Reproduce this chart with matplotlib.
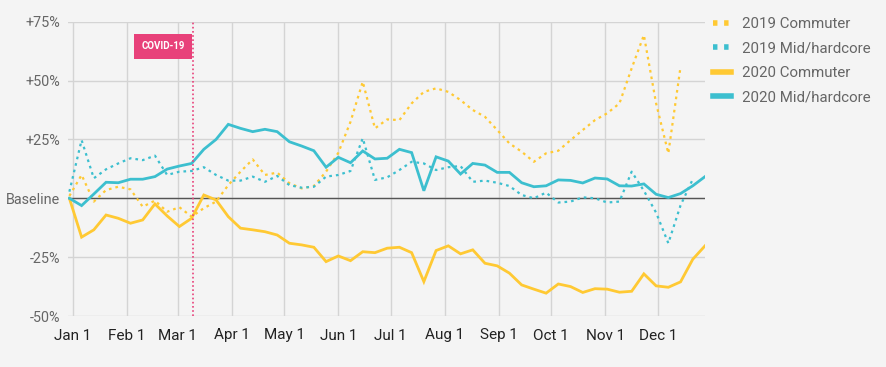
import matplotlib
matplotlib.use("Agg")
import matplotlib.pyplot as plt
import matplotlib.dates as mdates
import numpy as np
import pandas as pd
from matplotlib.lines import Line2D

plt.rcParams['font.family'] = ['Roboto', 'DejaVu Sans']

# weekly data, starting Monday Dec 30 2019
weeks = pd.date_range('2019-12-30', periods=53, freq='7D')

commuter_2020 = [0, -16.5, -13.4, -7.1, -8.5, -10.6, -9.2, -2.4, -7.5, -12, -8.5, 1.4, -0.7,
                 -7.8, -12.7, -13.4, -14.2, -15.6, -19.1, -19.8, -20.8, -26.9, -24.5, -26.5,
                 -22.7, -23.1, -21.2, -20.8, -23.1, -35.4, -22.2, -20.2, -23.6, -21.9, -27.6,
                 -28.7, -31.8, -36.8, -38.6, -40.3, -36.4, -37.5, -40.0, -38.4, -38.6, -39.9,
                 -39.5, -32.1, -37.2, -37.8, -35.5, -25.9, -20.2]
mid_2020 = [0, -3.1, 1.8, 6.8, 6.6, 8.1, 8.1, 9.2, 12.4, 13.7, 14.8, 20.8, 25.0, 31.4, 29.7,
            28.3, 29.3, 28.3, 24.0, 22.2, 20.2, 13.2, 17.4, 15.1, 20.1, 16.7, 17.0, 20.8, 19.4,
            3.2, 17.6, 15.8, 10.3, 14.8, 14.1, 11.0, 11.0, 6.6, 4.9, 5.3, 7.8, 7.6, 6.5, 8.6,
            8.2, 5.3, 5.2, 6.1, 1.7, 0.3, 2.0, 5.3, 9.2]
commuter_2019 = [1, 9.9, -1.4, 3.5, 4.9, 3.8, -3.6, -1.0, -5.7, -3.8, -7.8, -4.2, -1.4, 5.6,
                 11.3, 16.5, 9.9, 10.9, 6.4, 4.2, 5.2, 11.3, 19.3, 32.5, 49.5, 29.7, 33.5, 33.2,
                 40.3, 45.2, 46.7, 45.2, 41.7, 37.5, 34.6, 29.0, 23.3, 19.8, 15.5, 19.1, 20.2,
                 24.7, 29.0, 33.2, 36.1, 40.3, 55.2, 69.3, 40.3, 19.1, 55.9, np.nan, np.nan]
mid_2019 = [2.8, 24.7, 8.5, 12.3, 14.8, 17.0, 16.2, 18.1, 9.9, 11.3, 11.6, 13.2, 9.9, 7.5, 7.5,
            9.2, 7.0, 9.5, 5.6, 4.5, 4.9, 9.2, 9.9, 11.6, 25.5, 7.8, 8.9, 12.0, 15.5, 14.8, 12.0,
            13.2, 13.7, 7.0, 7.5, 6.6, 5.2, 1.4, 0.0, 2.4, -1.8, -1.4, 0.4, 0.0, -1.8, -1.4,
            11.3, 3.2, -6.1, -19.1, -3.0, 8.1, np.nan]

y_ticks = [-50, -25, 0, 25, 50, 75]
y_labels = ['-50%', '-25%', 'Baseline', '+25%', '+50%', '+75%']
x_ticks = pd.date_range('2020-01-01', periods=12, freq='MS')
x_labels = ['Jan 1', 'Feb 1', 'Mar 1', 'Apr 1', 'May 1', 'Jun 1', 'Jul 1', 'Aug 1',
            'Sep 1', 'Oct 1', 'Nov 1', 'Dec 1']
covid_date = pd.Timestamp('2020-03-10')

YELLOW = '#FFC933'
TEAL = '#3CBFCF'
PINK = '#E8417A'
BG = '#F4F4F4'
GRID = '#D4D4D4'

fig = plt.figure(figsize=(8.87, 3.67), dpi=100, facecolor=BG)
ax = fig.add_axes([68.5 / 887, 1 - 316 / 367, (705 - 68.5) / 887, (316 - 21.7) / 367])
ax.set_facecolor(BG)

dot = (1.2, 1.8)
ax.plot(weeks, commuter_2019, color=YELLOW, lw=1.6, dashes=dot, dash_capstyle='butt', zorder=3)
ax.plot(weeks, mid_2019, color=TEAL, lw=1.6, dashes=dot, dash_capstyle='butt', zorder=3)
ax.plot(weeks, commuter_2020, color=YELLOW, lw=2.0, solid_joinstyle='miter', zorder=4)
ax.plot(weeks, mid_2020, color=TEAL, lw=2.0, solid_joinstyle='miter', zorder=4)

ax.axhline(0, color='#555555', lw=1.0, zorder=2)
ax.axvline(covid_date, color=PINK, lw=1.2, dashes=(1, 1.5), zorder=5)

ax.set_xlim(pd.Timestamp('2019-12-29 12:00'), weeks[-1])
ax.set_ylim(-50, 75)
ax.set_yticks(y_ticks)
ax.set_yticklabels(y_labels)
ax.set_xticks(x_ticks)
ax.set_xticklabels(x_labels)
ax.tick_params(axis='y', length=0, pad=6, labelsize=10.4, labelcolor='#666666')
ax.tick_params(axis='x', length=0, pad=9, labelsize=11, labelcolor='#222222')
ax.grid(True, color=GRID, lw=1.0, zorder=0)
for s in ax.spines.values():
    s.set_visible(False)

ax.text(pd.Timestamp('2020-03-05'), 64.5, 'COVID-19', color='white', fontsize=7,
        fontweight='bold', ha='right', va='center', zorder=6,
        bbox=dict(boxstyle='square,pad=0.75', fc=PINK, ec='none'))

handles = [
    Line2D([], [], color=YELLOW, lw=4, dashes=(0.8, 1.2)),
    Line2D([], [], color=TEAL, lw=4, dashes=(0.8, 1.2)),
    Line2D([], [], color=YELLOW, lw=4),
    Line2D([], [], color=TEAL, lw=4),
]
labels = ['2019 Commuter', '2019 Mid/hardcore', '2020 Commuter', '2020 Mid/hardcore']
leg = fig.legend(handles, labels, loc='upper left', bbox_to_anchor=(707 / 887, 1 - 11 / 367),
                 frameon=False, fontsize=10.8, handlelength=1.2, handletextpad=0.75,
                 labelspacing=0.7, borderaxespad=0)
for t in leg.get_texts():
    t.set_color('#666666')

fig.savefig('out.png', dpi=100, facecolor=BG)
